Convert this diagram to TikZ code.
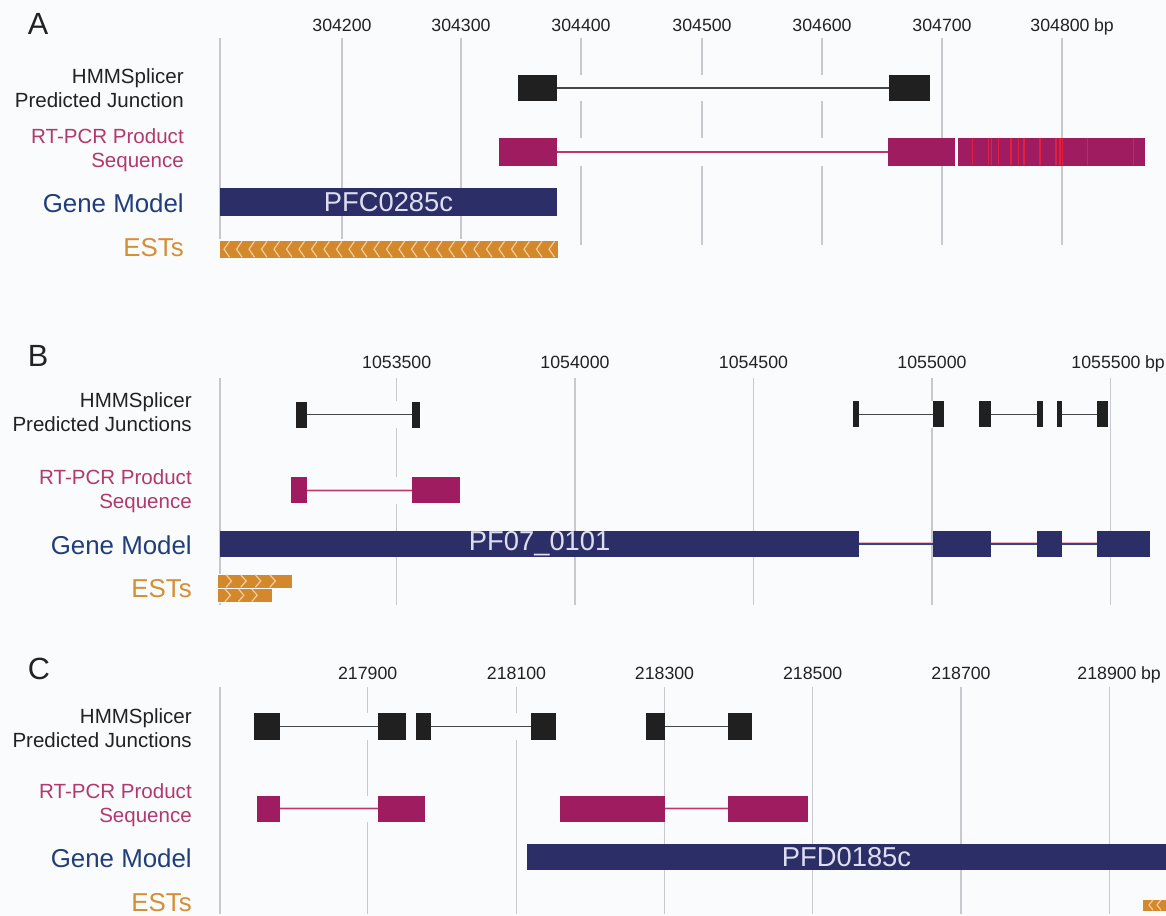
\documentclass[tikz,border=0pt]{standalone}
\usepackage{fontspec}
\setmainfont{Liberation Sans}
\usetikzlibrary{fit}
\definecolor{bgc}{RGB}{250,251,253}
\definecolor{gridc}{RGB}{200,200,206}
\definecolor{jblack}{RGB}{32,32,32}
\definecolor{jlinec}{RGB}{70,70,70}
\definecolor{rtc}{RGB}{158,28,95}
\definecolor{rtlinec}{RGB}{190,55,105}
\definecolor{rthalo}{RGB}{245,185,200}
\definecolor{stripec}{RGB}{228,32,62}
\definecolor{navyc}{RGB}{44,46,104}
\definecolor{navyline}{RGB}{50,70,130}
\definecolor{navyhalo}{RGB}{235,175,190}
\definecolor{genelab}{RGB}{32,62,122}
\definecolor{estc}{RGB}{212,136,44}
\definecolor{estsepc}{RGB}{242,205,160}
\definecolor{rtlab}{RGB}{178,56,110}
\definecolor{estlab}{RGB}{214,142,52}
\definecolor{textc}{RGB}{34,34,34}
\definecolor{genetext}{RGB}{222,222,240}
\tikzset{
  gridln/.style={draw=gridc, line width=1.05pt},
  halo/.style={fill=bgc},
  jbox/.style={fill=jblack, draw=none, inner sep=0pt, outer sep=0pt},
  rtbox/.style={fill=rtc, draw=none, inner sep=0pt, outer sep=0pt},
  gbox/.style={fill=navyc, draw=none, inner sep=0pt, outer sep=0pt},
  estbox/.style={fill=estc, draw=none, inner sep=0pt, outer sep=0pt},
  jconn/.style={draw=jlinec, line width=0.9pt},
  rtconn/.style={draw=rtlinec, line width=0.9pt, preaction={draw=rthalo, line width=2.2pt}},
  gconn/.style={draw=navyline, line width=1.5pt, preaction={draw=navyhalo, line width=2.5pt}},
  stripe/.style={draw=stripec, line width=0.8pt},
  estsep/.style={draw=estsepc, line width=0.9pt},
  tick/.style={font=\fontsize{13.3}{16}\selectfont, text=textc, inner sep=0pt},
  panel/.style={font=\fontsize{23}{26}\selectfont, text=textc, inner sep=0pt},
  jlab/.style={font=\fontsize{15.4}{18}\selectfont, text=textc, anchor=east, align=right, inner sep=0pt},
  rtlabst/.style={font=\fontsize{15.4}{18}\selectfont, text=rtlab, anchor=east, align=right, inner sep=0pt},
  glab/.style={font=\fontsize{19.4}{22}\selectfont, text=genelab, anchor=east, inner sep=0pt},
  elab/.style={font=\fontsize{19.4}{22}\selectfont, text=estlab, anchor=east, inner sep=0pt},
  gname/.style={font=\fontsize{20.5}{22}\selectfont, text=genetext, inner sep=0pt},
}
\begin{document}
\begin{tikzpicture}[x=0.75pt, y=-0.75pt]
\fill[bgc] (0,0) rectangle (1166,916);
\useasboundingbox (0,0) rectangle (1166,916);

%%%%%%%%%%%%%%%% PANEL A %%%%%%%%%%%%%%%%
\node[panel] (pA) at (38,24) {A};
\foreach \x in {220,342,461,581,702,822,942,1062} \draw[gridln] (\x,38) -- (\x,245);
\node[tick] (tA1) at (342,25) {304200};
\node[tick] (tA2) at (461,25) {304300};
\node[tick] (tA3) at (581,25) {304400};
\node[tick] (tA4) at (702,25) {304500};
\node[tick] (tA5) at (822,25) {304600};
\node[tick] (tA6) at (942,25) {304700};
\node[tick] (tA7) at (1060,25) {304800};
\node[tick, anchor=base west] (tA8) at ([xshift=3pt]tA7.base east) {bp};

\node[jlab] (lA1) at (184,88.5) {HMMSplicer\\Predicted Junction};
\node[rtlabst] (lA2) at (184,150) {RT-PCR Product\\Sequence};
\node[glab] (lA3) at (184,203) {Gene Model};
\node[elab] (lA4) at (184,248) {ESTs};

\fill[halo] (518,75) rectangle (930,101);
\fill[halo] (499,138) rectangle (1145,166);
\fill[halo] (219,239) rectangle (559,259);

\node[jbox, fit={(518,75) (557,101)}] (ja1) {};
\node[jbox, fit={(889,75) (930,101)}] (ja2) {};
\draw[jconn] (ja1.east) -- (ja2.west);

\node[rtbox, fit={(499,138) (557,166)}] (ra1) {};
\node[rtbox, fit={(888,138) (955,166)}] (ra2) {};
\node[rtbox, fit={(958,138) (1145,166)}] (ra3) {};
\draw[rtconn] (ra1.east) -- (ra2.west);
\foreach \s in {972.7,988.3,991.7,998.3,1011,1018.3,1024,1040,1056,1060,1062.7,1087.3,1133.3}
  \draw[stripe] (\s,138.5) -- (\s,165.5);

\node[gbox, fit={(220,188) (557,216)}] (ga1) {};
\node[gname] (gna) at (ga1.center) {PFC0285c};

\node[estbox, fit={(220,241) (558,257.5)}] (ea1) {};
\foreach \i in {0,...,26}
  \draw[estsep] ({224+\i*12.5+5.5},241.3) -- ({224+\i*12.5},249.2) -- ({224+\i*12.5+5.5},257.2);

%%%%%%%%%%%%%%%% PANEL B %%%%%%%%%%%%%%%%
\node[panel] (pB) at (38,356) {B};
\foreach \x in {220,396.7,575,753.5,932,1110.3} \draw[gridln] (\x,378) -- (\x,605);
\node[tick] (tB1) at (396.7,362) {1053500};
\node[tick] (tB2) at (575,362) {1054000};
\node[tick] (tB3) at (753.5,362) {1054500};
\node[tick] (tB4) at (932,362) {1055000};
\node[tick] (tB5) at (1106,362) {1055500};
\node[tick, anchor=base west] (tB6) at ([xshift=3pt]tB5.base east) {bp};

\node[jlab] (lB1) at (192,412) {HMMSplicer\\Predicted Junctions};
\node[rtlabst] (lB2) at (192,491) {RT-PCR Product\\Sequence};
\node[glab] (lB3) at (192,545) {Gene Model};
\node[elab] (lB4) at (192,589) {ESTs};

\fill[halo] (296,401) rectangle (420,428);
\fill[halo] (853,401) rectangle (1108,428);
\fill[halo] (291,477) rectangle (460,504);
\fill[halo] (217,574) rectangle (293,603);

\node[jbox, fit={(296,401.5) (307.3,428)}] (jb1) {};
\node[jbox, fit={(411.7,401.5) (420,428)}] (jb2) {};
\draw[jconn] (jb1.east) -- (jb2.west);
\node[jbox, fit={(853.3,401) (859.3,427.3)}] (jb3) {};
\node[jbox, fit={(932.7,401) (944.3,427.3)}] (jb4) {};
\draw[jconn] (jb3.east) -- (jb4.west);
\node[jbox, fit={(979.3,401) (990.7,427.3)}] (jb5) {};
\node[jbox, fit={(1037.3,401) (1043.3,427.3)}] (jb6) {};
\draw[jconn] (jb5.east) -- (jb6.west);
\node[jbox, fit={(1056.7,401) (1061.7,427.3)}] (jb7) {};
\node[jbox, fit={(1096.7,401) (1108.3,427.3)}] (jb8) {};
\draw[jconn] (jb7.east) -- (jb8.west);

\node[rtbox, fit={(291,477.3) (306.7,503.3)}] (rb1) {};
\node[rtbox, fit={(411.7,477.3) (460,503.3)}] (rb2) {};
\draw[rtconn] (rb1.east) -- (rb2.west);

\node[gbox, fit={(220,530.7) (859.3,556.7)}] (gb1) {};
\node[gbox, fit={(932.7,530.7) (990.7,556.7)}] (gb2) {};
\node[gbox, fit={(1037.3,530.7) (1061.7,556.7)}] (gb3) {};
\node[gbox, fit={(1096.7,530.7) (1150,556.7)}] (gb4) {};
\draw[gconn] (gb1.east) -- (gb2.west);
\draw[gconn] (gb2.east) -- (gb3.west);
\draw[gconn] (gb3.east) -- (gb4.west);
\node[gname] (gnb) at (gb1.center) {PF07\_0101};

\node[estbox, fit={(218,574.5) (291.7,587.5)}] (eb1) {};
\node[estbox, fit={(218,588.5) (271.7,602)}] (eb2) {};
\foreach \i in {0,...,3}
  \draw[estsep] ({218+14.6*(\i+1)-6.5},574.8) -- ({218+14.6*(\i+1)-1},581) -- ({218+14.6*(\i+1)-6.5},587.2);
\foreach \i in {0,...,2}
  \draw[estsep] ({218+13.4*(\i+1)-6.5},588.8) -- ({218+13.4*(\i+1)-1},595.2) -- ({218+13.4*(\i+1)-6.5},601.7);

%%%%%%%%%%%%%%%% PANEL C %%%%%%%%%%%%%%%%
\node[panel] (pC) at (39,669) {C};
\foreach \x in {220,367.7,516.5,664.5,812.7,961,1109.3} \draw[gridln] (\x,687) -- (\x,914);
\node[tick] (tC1) at (367.7,673) {217900};
\node[tick] (tC2) at (516.5,673) {218100};
\node[tick] (tC3) at (664.5,673) {218300};
\node[tick] (tC4) at (812.7,673) {218500};
\node[tick] (tC5) at (961,673) {218700};
\node[tick] (tC6) at (1107,673) {218900};
\node[tick, anchor=base west] (tC7) at ([xshift=3pt]tC6.base east) {bp};

\node[jlab] (lC1) at (192,728) {HMMSplicer\\Predicted Junctions};
\node[rtlabst] (lC2) at (192,805.5) {RT-PCR Product\\Sequence};
\node[glab] (lC3) at (192,858) {Gene Model};
\node[elab] (lC4) at (192,902.5) {ESTs};

\fill[halo] (254,713) rectangle (406,740);
\fill[halo] (416,713) rectangle (556,740);
\fill[halo] (646,713) rectangle (752.3,740);
\fill[halo] (256.7,795.7) rectangle (425,821.7);
\fill[halo] (560,795.7) rectangle (807.7,821.7);
\fill[halo] (1142,898.5) rectangle (1166,911.5);

\node[jbox, fit={(254.3,713.3) (280,740)}] (jc1) {};
\node[jbox, fit={(377.7,713.3) (405.7,740)}] (jc2) {};
\draw[jconn] (jc1.east) -- (jc2.west);
\node[jbox, fit={(416,713.3) (430.7,740)}] (jc3) {};
\node[jbox, fit={(530.7,713.3) (556,740)}] (jc4) {};
\draw[jconn] (jc3.east) -- (jc4.west);
\node[jbox, fit={(646,713.3) (665,740)}] (jc5) {};
\node[jbox, fit={(728.3,713.3) (752.3,740)}] (jc6) {};
\draw[jconn] (jc5.east) -- (jc6.west);

\node[rtbox, fit={(256.7,795.7) (280,821.7)}] (rc1) {};
\node[rtbox, fit={(377.7,795.7) (425,821.7)}] (rc2) {};
\draw[rtconn] (rc1.east) -- (rc2.west);
\node[rtbox, fit={(560,795.7) (665,821.7)}] (rc3) {};
\node[rtbox, fit={(728.3,795.7) (807.7,821.7)}] (rc4) {};
\draw[rtconn] (rc3.east) -- (rc4.west);

\node[gbox, fit={(527,843.5) (1166,870)}] (gc1) {};
\node[gname] (gnc) at (gc1.center) {PFD0185c};

\node[estbox, fit={(1143.3,899.5) (1166,910.5)}] (ec1) {};
\foreach \s in {1149,1157}
  \draw[estsep] ({\s+4},899.8) -- (\s,905) -- ({\s+4},910.2);
\end{tikzpicture}
\end{document}
